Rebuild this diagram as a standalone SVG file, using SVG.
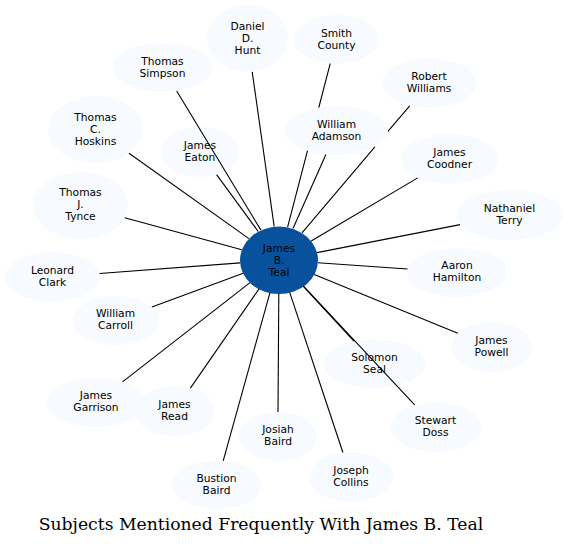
<svg xmlns="http://www.w3.org/2000/svg" width="568" height="545" viewBox="0 0 568 545">
<style>
.n ellipse{fill:#f7fbff;stroke:none}
.c ellipse{fill:#08519c;stroke:none}
.n text,.c text{font-family:"DejaVu Sans","Liberation Sans",sans-serif;font-size:10.7px;fill:#000;text-anchor:middle}
.e path{fill:none;stroke:#000;stroke-width:1.1}
.t{font-family:"DejaVu Serif","Liberation Serif",serif;font-size:17.2px;fill:#000;text-anchor:middle}
</style>
<rect width="568" height="545" fill="#fff"/>
<g id="nodes">
<g id="hunt" class="n"><ellipse cx="247.5" cy="38.5" rx="40.5" ry="33.5"/><text><tspan x="247.5" y="29.5">Daniel</tspan><tspan x="247.5" y="41.5">D.</tspan><tspan x="247.5" y="53.5">Hunt</tspan></text></g>
<g id="smith" class="n"><ellipse cx="336.5" cy="39.5" rx="42.5" ry="24.5"/><text><tspan x="336.5" y="36.5">Smith</tspan><tspan x="336.5" y="48.5">County</tspan></text></g>
<g id="simpson" class="n"><ellipse cx="162.5" cy="67.5" rx="49.5" ry="24.5"/><text><tspan x="162.5" y="64.5">Thomas</tspan><tspan x="162.5" y="76.5">Simpson</tspan></text></g>
<g id="williams" class="n"><ellipse cx="429" cy="83" rx="47" ry="25"/><text><tspan x="429" y="80">Robert</tspan><tspan x="429" y="92">Williams</tspan></text></g>
<g id="hoskins" class="n"><ellipse cx="95.5" cy="129.5" rx="47.5" ry="33.5"/><text><tspan x="95.5" y="120.5">Thomas</tspan><tspan x="95.5" y="132.5">C.</tspan><tspan x="95.5" y="144.5">Hoskins</tspan></text></g>
<g id="adamson" class="n"><ellipse cx="336.5" cy="130.5" rx="51.5" ry="24.5"/><text><tspan x="336.5" y="127.5">William</tspan><tspan x="336.5" y="139.5">Adamson</tspan></text></g>
<g id="eaton" class="n"><ellipse cx="200" cy="152" rx="39" ry="25"/><text><tspan x="200" y="149">James</tspan><tspan x="200" y="161">Eaton</tspan></text></g>
<g id="coodner" class="n"><ellipse cx="449.5" cy="159" rx="48.5" ry="25"/><text><tspan x="449.5" y="156">James</tspan><tspan x="449.5" y="168">Coodner</tspan></text></g>
<g id="tynce" class="n"><ellipse cx="80.5" cy="205.5" rx="47.5" ry="33.5"/><text><tspan x="80.5" y="196">Thomas</tspan><tspan x="80.5" y="208">J.</tspan><tspan x="80.5" y="220">Tynce</tspan></text></g>
<g id="terry" class="n"><ellipse cx="509.5" cy="215" rx="53.5" ry="25"/><text><tspan x="509.5" y="212">Nathaniel</tspan><tspan x="509.5" y="224">Terry</tspan></text></g>
<g id="teal" class="c"><ellipse cx="279" cy="260.3" rx="39" ry="33.7"/><text><tspan x="279" y="251.5">James</tspan><tspan x="279" y="263.5">B.</tspan><tspan x="279" y="275.5">Teal</tspan></text></g>
<g id="hamilton" class="n"><ellipse cx="457" cy="272.5" rx="50" ry="24.5"/><text><tspan x="457" y="269">Aaron</tspan><tspan x="457" y="281">Hamilton</tspan></text></g>
<g id="clark" class="n"><ellipse cx="52.5" cy="277" rx="47.5" ry="25"/><text><tspan x="52.5" y="274">Leonard</tspan><tspan x="52.5" y="286">Clark</tspan></text></g>
<g id="carroll" class="n"><ellipse cx="115.5" cy="320.5" rx="43.5" ry="24.5"/><text><tspan x="115.5" y="317">William</tspan><tspan x="115.5" y="329">Carroll</tspan></text></g>
<g id="powell" class="n"><ellipse cx="491.5" cy="347" rx="40.5" ry="25"/><text><tspan x="491.5" y="344">James</tspan><tspan x="491.5" y="356">Powell</tspan></text></g>
<g id="seal" class="n"><ellipse cx="374.5" cy="363.5" rx="50.5" ry="24.5"/><text><tspan x="374.5" y="360.5">Solomon</tspan><tspan x="374.5" y="372.5">Seal</tspan></text></g>
<g id="garrison" class="n"><ellipse cx="96" cy="402.5" rx="49" ry="24.5"/><text><tspan x="96" y="399">James</tspan><tspan x="96" y="411">Garrison</tspan></text></g>
<g id="read" class="n"><ellipse cx="174.5" cy="411" rx="39.5" ry="25"/><text><tspan x="174.5" y="408">James</tspan><tspan x="174.5" y="420">Read</tspan></text></g>
<g id="doss" class="n"><ellipse cx="435.5" cy="427" rx="45.5" ry="25"/><text><tspan x="435.5" y="424">Stewart</tspan><tspan x="435.5" y="436">Doss</tspan></text></g>
<g id="josiah" class="n"><ellipse cx="278" cy="436.5" rx="39" ry="24.5"/><text><tspan x="278" y="433">Josiah</tspan><tspan x="278" y="445">Baird</tspan></text></g>
<g id="collins" class="n"><ellipse cx="351" cy="477" rx="42" ry="25"/><text><tspan x="351" y="474">Joseph</tspan><tspan x="351" y="486">Collins</tspan></text></g>
<g id="bustion" class="n"><ellipse cx="216.5" cy="485" rx="44.5" ry="24.5"/><text><tspan x="216.5" y="482">Bustion</tspan><tspan x="216.5" y="494">Baird</tspan></text></g>
</g>
<g id="edges" class="e">
<path d="M287.6,227.1 L307.5,150.7 M318.8,107.5 L330.2,63.7"/>
<path d="M274.2,226.6 L252.2,71.8"/>
<path d="M260.9,230.1 L176.7,91.0"/>
<path d="M248.9,238.6 L129.0,153.3"/>
<path d="M258.2,231.5 L216.6,174.6"/>
<path d="M241.8,249.8 L124.8,217.7"/>
<path d="M240.2,262.9 L99.5,273.5"/>
<path d="M243.2,273.3 L151.9,307.0"/>
<path d="M250.0,282.6 L122.5,381.9"/>
<path d="M259.0,288.9 L190.4,388.1"/>
<path d="M269.9,292.8 L223.2,460.8"/>
<path d="M278.8,293.7 L278,412"/>
<path d="M289.7,292.4 L342.9,452.5"/>
<path d="M303.5,286.2 L414.7,404.8"/>
<path d="M303.3,286.4 L353.9,341.1"/>
<path d="M314.2,274.4 L457.8,333.2"/>
<path d="M317.9,262.7 L407.5,269.0"/>
<path d="M317.0,252.6 L460.1,224.6"/>
<path d="M311.2,241.0 L417.7,177.9"/>
<path d="M302.0,232.8 L374.9,146.8 M387.9,131.4 L409.7,105.8"/>
<path d="M293.0,228.5 L325.9,154.5"/>
</g>
<text class="t" x="261" y="529.5">Subjects Mentioned Frequently With James B. Teal</text>
</svg>
